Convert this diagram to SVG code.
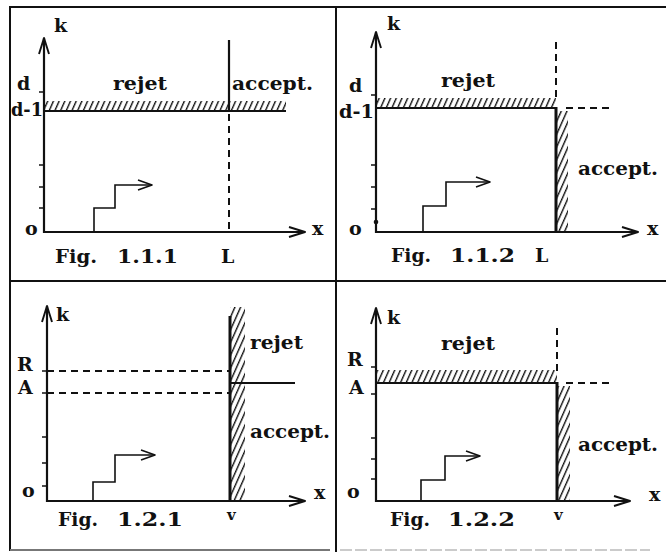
<svg xmlns="http://www.w3.org/2000/svg" width="666" height="552" viewBox="0 0 666 552">
  <style>
    .t { font-family: "DejaVu Serif", "Liberation Serif", serif; font-weight: bold; font-size: 19px; fill: #111; }
    .ax { stroke: #111; stroke-width: 2.2; fill: none; }
    .thin { stroke: #111; stroke-width: 1.6; fill: none; }
    .thick { stroke: #111; stroke-width: 3; fill: none; }
    .dash { stroke: #111; stroke-width: 2; fill: none; stroke-dasharray: 7 5; }
    .frame { stroke: #111; stroke-width: 2; fill: none; }
    .tick { stroke: #111; stroke-width: 1.5; }
    .hatch { fill: url(#hatch); stroke: none; }
  </style>
  <defs>
    <pattern id="hatch" patternUnits="userSpaceOnUse" width="5.2" height="10" patternTransform="rotate(24)">
      <line x1="1.5" y1="0" x2="1.5" y2="10" stroke="#111" stroke-width="1.4"/>
    </pattern>
    <marker id="axArrow" markerUnits="userSpaceOnUse" viewBox="0 0 18 12" markerWidth="18" markerHeight="12" refX="17" refY="6" orient="auto">
      <path d="M1,1 L17,6 L1,11" fill="none" stroke="#111" stroke-width="1.9" stroke-linejoin="round"/>
    </marker>
    <marker id="stepArrow" markerUnits="userSpaceOnUse" viewBox="0 0 16 12" markerWidth="16" markerHeight="12" refX="15" refY="6" orient="auto">
      <path d="M1,1 L15,6 L1,11" fill="none" stroke="#111" stroke-width="1.6" stroke-linejoin="round"/>
    </marker>
  </defs>
  <rect width="666" height="552" fill="#fff"/>

  <!-- outer frame and panel dividers -->
  <g id="frame">
    <line class="frame" x1="10" y1="7" x2="666" y2="7"/>
    <line class="frame" x1="10" y1="6" x2="10" y2="551"/>
    <line class="frame" x1="336" y1="6" x2="336" y2="552"/>
    <line class="frame" x1="10" y1="281" x2="666" y2="281"/>
    <line x1="10" y1="550" x2="330" y2="550" stroke="#777" stroke-width="2"/>
    <line x1="340" y1="550" x2="650" y2="550" stroke="#bbb" stroke-width="1.5" stroke-dasharray="12 3"/>
  </g>

  <!-- Fig. 1.1.1 -->
  <g id="fig111">
    <rect class="hatch" x="44" y="101" width="242" height="10"/>
    <line class="ax" x1="44" y1="111" x2="286" y2="111"/>
    <line class="ax" x1="229" y1="40" x2="229" y2="111"/>
    <line class="dash" x1="229" y1="114" x2="229" y2="232"/>
    <line class="ax" x1="44" y1="233" x2="44" y2="38" marker-end="url(#axArrow)"/>
    <line class="ax" x1="43" y1="232" x2="305" y2="232" marker-end="url(#axArrow)"/>
    <line class="tick" x1="39" y1="92" x2="44" y2="92"/>
    <line class="tick" x1="39" y1="165" x2="44" y2="165"/>
    <line class="tick" x1="39" y1="187" x2="44" y2="187"/>
    <line class="tick" x1="39" y1="208" x2="44" y2="208"/>
    <path class="thin" d="M94,232 V208 H115 V185 H152" marker-end="url(#stepArrow)"/>
    <text class="t" x="54" y="32">k</text>
    <text class="t" x="17" y="90">d</text>
    <text class="t" x="11" y="116" textLength="32" lengthAdjust="spacingAndGlyphs">d-1</text>
    <text class="t" x="113" y="90" textLength="54" lengthAdjust="spacingAndGlyphs">rejet</text>
    <text class="t" x="232" y="90" textLength="81" lengthAdjust="spacingAndGlyphs">accept.</text>
    <text class="t" x="25" y="235">o</text>
    <text class="t" x="312" y="235">x</text>
    <text class="t" x="55" y="263" textLength="42" lengthAdjust="spacingAndGlyphs">Fig.</text>
    <text class="t" x="117" y="263" textLength="61" lengthAdjust="spacingAndGlyphs">1.1.1</text>
    <text class="t" x="221" y="263">L</text>
  </g>

  <!-- Fig. 1.1.2 -->
  <g id="fig112">
    <rect class="hatch" x="376" y="98" width="180" height="10"/>
    <line class="ax" x1="376" y1="108" x2="557" y2="108"/>
    <line class="dash" x1="556" y1="42" x2="556" y2="100"/>
    <rect class="hatch" x="556" y="111" width="12" height="121"/>
    <line class="thick" x1="556" y1="107" x2="556" y2="232"/>
    <line class="dash" x1="566" y1="108" x2="611" y2="108"/>
    <line class="ax" x1="376" y1="233" x2="376" y2="32" marker-end="url(#axArrow)"/>
    <line class="ax" x1="375" y1="232" x2="638" y2="232" marker-end="url(#axArrow)"/>
    <line class="tick" x1="371" y1="95" x2="376" y2="95"/>
    <line class="tick" x1="371" y1="165" x2="376" y2="165"/>
    <line class="tick" x1="371" y1="187" x2="376" y2="187"/>
    <line class="tick" x1="371" y1="209" x2="376" y2="209"/>
    <circle cx="376" cy="222" r="2.3" fill="#111"/>
    <path class="thin" d="M423,232 V206 H446 V182 H490" marker-end="url(#stepArrow)"/>
    <text class="t" x="387" y="30">k</text>
    <text class="t" x="349" y="92">d</text>
    <text class="t" x="339" y="118" textLength="35" lengthAdjust="spacingAndGlyphs">d-1</text>
    <text class="t" x="441" y="87" textLength="54" lengthAdjust="spacingAndGlyphs">rejet</text>
    <text class="t" x="578" y="175" textLength="80" lengthAdjust="spacingAndGlyphs">accept.</text>
    <text class="t" x="349" y="235">o</text>
    <text class="t" x="647" y="235">x</text>
    <text class="t" x="391" y="262" textLength="40" lengthAdjust="spacingAndGlyphs">Fig.</text>
    <text class="t" x="450" y="262" textLength="65" lengthAdjust="spacingAndGlyphs">1.1.2</text>
    <text class="t" x="535" y="262">L</text>
  </g>

  <!-- Fig. 1.2.1 -->
  <g id="fig121">
    <line class="dash" x1="47" y1="371" x2="230" y2="371"/>
    <line class="dash" x1="47" y1="393" x2="230" y2="393"/>
    <rect class="hatch" x="230" y="307" width="15" height="194"/>
    <line class="thick" x1="230" y1="316" x2="230" y2="501"/>
    <line class="ax" x1="230" y1="383" x2="295" y2="383"/>
    <line class="ax" x1="47" y1="502" x2="47" y2="306" marker-end="url(#axArrow)"/>
    <line class="ax" x1="46" y1="501" x2="305" y2="501" marker-end="url(#axArrow)"/>
    <line class="tick" x1="42" y1="371" x2="47" y2="371"/>
    <line class="tick" x1="42" y1="393" x2="47" y2="393"/>
    <line class="tick" x1="42" y1="437" x2="47" y2="437"/>
    <line class="tick" x1="42" y1="463" x2="47" y2="463"/>
    <line class="tick" x1="42" y1="486" x2="47" y2="486"/>
    <path class="thin" d="M93,501 V482 H115 V455 H155" marker-end="url(#stepArrow)"/>
    <text class="t" x="56" y="321">k</text>
    <text class="t" x="17" y="371">R</text>
    <text class="t" x="18" y="394">A</text>
    <text class="t" x="250" y="349" textLength="53" lengthAdjust="spacingAndGlyphs">rejet</text>
    <text class="t" x="250" y="438" textLength="80" lengthAdjust="spacingAndGlyphs">accept.</text>
    <text class="t" x="22" y="497">o</text>
    <text class="t" x="314" y="499">x</text>
    <text class="t" x="58" y="526" textLength="40" lengthAdjust="spacingAndGlyphs">Fig.</text>
    <text class="t" x="117" y="526" textLength="66" lengthAdjust="spacingAndGlyphs">1.2.1</text>
    <text class="t" x="227" y="520" style="font-size:15px">v</text>
  </g>

  <!-- Fig. 1.2.2 -->
  <g id="fig122">
    <rect class="hatch" x="376" y="370" width="181" height="13"/>
    <line class="ax" x1="376" y1="383" x2="558" y2="383"/>
    <line class="dash" x1="557" y1="328" x2="557" y2="375"/>
    <rect class="hatch" x="557" y="386" width="13" height="115"/>
    <line class="thick" x1="557" y1="382" x2="557" y2="501"/>
    <line class="dash" x1="566" y1="383" x2="611" y2="383"/>
    <line class="ax" x1="376" y1="502" x2="376" y2="308" marker-end="url(#axArrow)"/>
    <line class="ax" x1="375" y1="501" x2="630" y2="501" marker-end="url(#axArrow)"/>
    <line class="tick" x1="371" y1="367" x2="376" y2="367"/>
    <line class="tick" x1="371" y1="394" x2="376" y2="394"/>
    <line class="tick" x1="371" y1="438" x2="376" y2="438"/>
    <line class="tick" x1="371" y1="459" x2="376" y2="459"/>
    <line class="tick" x1="371" y1="479" x2="376" y2="479"/>
    <path class="thin" d="M421,501 V480 H445 V456 H480" marker-end="url(#stepArrow)"/>
    <text class="t" x="387" y="324">k</text>
    <text class="t" x="347" y="366">R</text>
    <text class="t" x="349" y="394">A</text>
    <text class="t" x="441" y="350" textLength="54" lengthAdjust="spacingAndGlyphs">rejet</text>
    <text class="t" x="578" y="451" textLength="80" lengthAdjust="spacingAndGlyphs">accept.</text>
    <text class="t" x="347" y="498">o</text>
    <text class="t" x="649" y="501">x</text>
    <text class="t" x="390" y="526" textLength="40" lengthAdjust="spacingAndGlyphs">Fig.</text>
    <text class="t" x="448" y="526" textLength="67" lengthAdjust="spacingAndGlyphs">1.2.2</text>
    <text class="t" x="554" y="520" style="font-size:15px">v</text>
  </g>
</svg>
